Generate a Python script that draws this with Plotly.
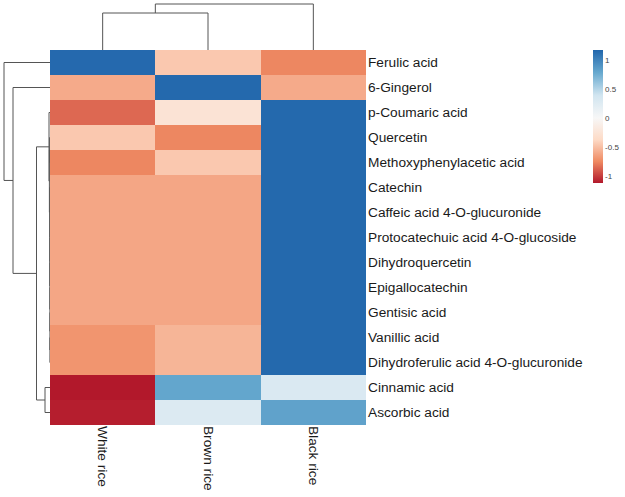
import plotly.graph_objects as go

W, H = 625, 497

compounds = ["Ferulic acid", "6-Gingerol", "p-Coumaric acid", "Quercetin",
             "Methoxyphenylacetic acid", "Catechin", "Caffeic acid 4-O-glucuronide",
             "Protocatechuic acid 4-O-glucoside", "Dihydroquercetin", "Epigallocatechin",
             "Gentisic acid", "Vanillic acid", "Dihydroferulic acid 4-O-glucuronide",
             "Cinnamic acid", "Ascorbic acid"]
samples = ["White rice", "Brown rice", "Black rice"]

white_rice = [1.15, -0.60, -0.86, -0.46, -0.76, -0.62, -0.62, -0.62, -0.62, -0.62,
              -0.62, -0.70, -0.70, -1.13, -1.10]
brown_rice = [-0.46, 1.155, -0.26, -0.76, -0.46, -0.62, -0.62, -0.62, -0.62, -0.62,
              -0.62, -0.55, -0.55, 0.80, 0.28]
black_rice = [-0.76, -0.60, 1.155, 1.155, 1.155, 1.155, 1.155, 1.155, 1.155, 1.155,
              1.155, 1.155, 1.155, 0.30, 0.82]

# Row dendrogram: hclust-style merges (negative = leaf number, positive = merge number)
row_merge_a = [-12, -11, -10, -9, -8, -7, -4, -6, 7, -14, -3, 11, -2, -1]
row_merge_b = [-13, 1, 2, 3, 4, 5, -5, 6, 8, -15, 9, 10, 12, 13]
row_heights = [0.10, 0.12, 0.14, 0.16, 0.18, 0.20, 0.40, 0.25, 0.60, 5.0, 1.0, 13.5, 37.0, 46.0]

# Column dendrogram
col_merge_a = [-1, 1]
col_merge_b = [-2, -3]
col_heights = [37.0, 46.0]

cb_vals = [1, 0.5, 0, -0.5, -1]
zmin, zmax = -1.12, 1.17


def dendro_lines(ma, mb, hs):
    pos, ht = {}, {}
    xs, ys = [], []
    for i, (a, b, h) in enumerate(zip(ma, mb, hs), start=1):
        def p(n):
            return (-n - 1) if n < 0 else pos[n]

        def hh(n):
            return 0.0 if n < 0 else ht[n]
        pa, pb = p(a), p(b)
        xs += [hh(a), h, h, hh(b), None]
        ys += [pa, pa, pb, pb, None]
        pos[i] = (pa + pb) / 2
        ht[i] = h
    return xs, ys


rx_h, rx_p = dendro_lines(row_merge_a, row_merge_b, row_heights)
cx_h, cx_p = dendro_lines(col_merge_a, col_merge_b, col_heights)

z = [[white_rice[i], brown_rice[i], black_rice[i]] for i in range(len(compounds))]

stops_v = [zmin, -0.75, -0.37, 0.0, 0.39, 0.78, zmax]
stops_c = ["#B2182B", "#EF8A62", "#FDDBC7", "#F7F7F7", "#D1E5F0", "#67A9CF", "#2166AC"]
colorscale = [[(v - zmin) / (zmax - zmin), c] for v, c in zip(stops_v, stops_c)]


def py(p):
    return 1 - p / H


fig = go.Figure()
fig.add_trace(go.Heatmap(
    z=z, x=[0, 1, 2], y=list(range(len(compounds))),
    colorscale=colorscale, zmin=zmin, zmax=zmax, xgap=0, ygap=0,
    hoverinfo="skip",
    colorbar=dict(
        x=593 / W, xanchor="left", y=py(50), yanchor="top", xpad=0, ypad=0,
        len=133 / H, lenmode="fraction", thickness=10, outlinewidth=0,
        ticks="", tickvals=cb_vals, ticktext=[str(v) for v in cb_vals],
        tickfont=dict(size=8, color="#444", family="Liberation Sans"),
    ),
))
fig.add_trace(go.Scatter(x=rx_h, y=rx_p, xaxis="x2", yaxis="y", mode="lines",
                         line=dict(color="#555555", width=1), hoverinfo="skip",
                         showlegend=False))
fig.add_trace(go.Scatter(x=cx_p, y=cx_h, xaxis="x", yaxis="y3", mode="lines",
                         line=dict(color="#555555", width=1), hoverinfo="skip",
                         showlegend=False))

fig.update_layout(
    width=W, height=H, margin=dict(l=0, r=0, t=0, b=0, autoexpand=False),
    paper_bgcolor="white", plot_bgcolor="white",
    font=dict(family="Liberation Sans, Arial", color="#1a1a1a", size=13.7),
    showlegend=False,
    xaxis=dict(domain=[50 / W, 366 / W], range=[-0.5, 2.5], anchor="y",
               tickvals=[0, 1, 2], ticktext=samples, tickangle=90,
               showgrid=False, zeroline=False, showline=False, ticks="",
               automargin=False, ticklabelstandoff=0,
               tickfont=dict(size=13.7, color="#1a1a1a")),
    yaxis=dict(domain=[py(425), py(50)], range=[14.5, -0.5], anchor="x",
               side="right", tickvals=list(range(len(compounds))), ticktext=compounds,
               showgrid=False, zeroline=False, showline=False, ticks="",
               automargin=False, ticklabelstandoff=1,
               tickfont=dict(size=13.7, color="#1a1a1a")),
    xaxis2=dict(domain=[0, 50 / W], range=[50, 0], anchor="y", visible=False),
    yaxis3=dict(domain=[py(50), py(2)], range=[0, 48], anchor="x", visible=False),
)

fig.write_html("out.html", config={"displayModeBar": False},
               post_script="document.body.style.margin='0';document.body.style.overflow='hidden';")
